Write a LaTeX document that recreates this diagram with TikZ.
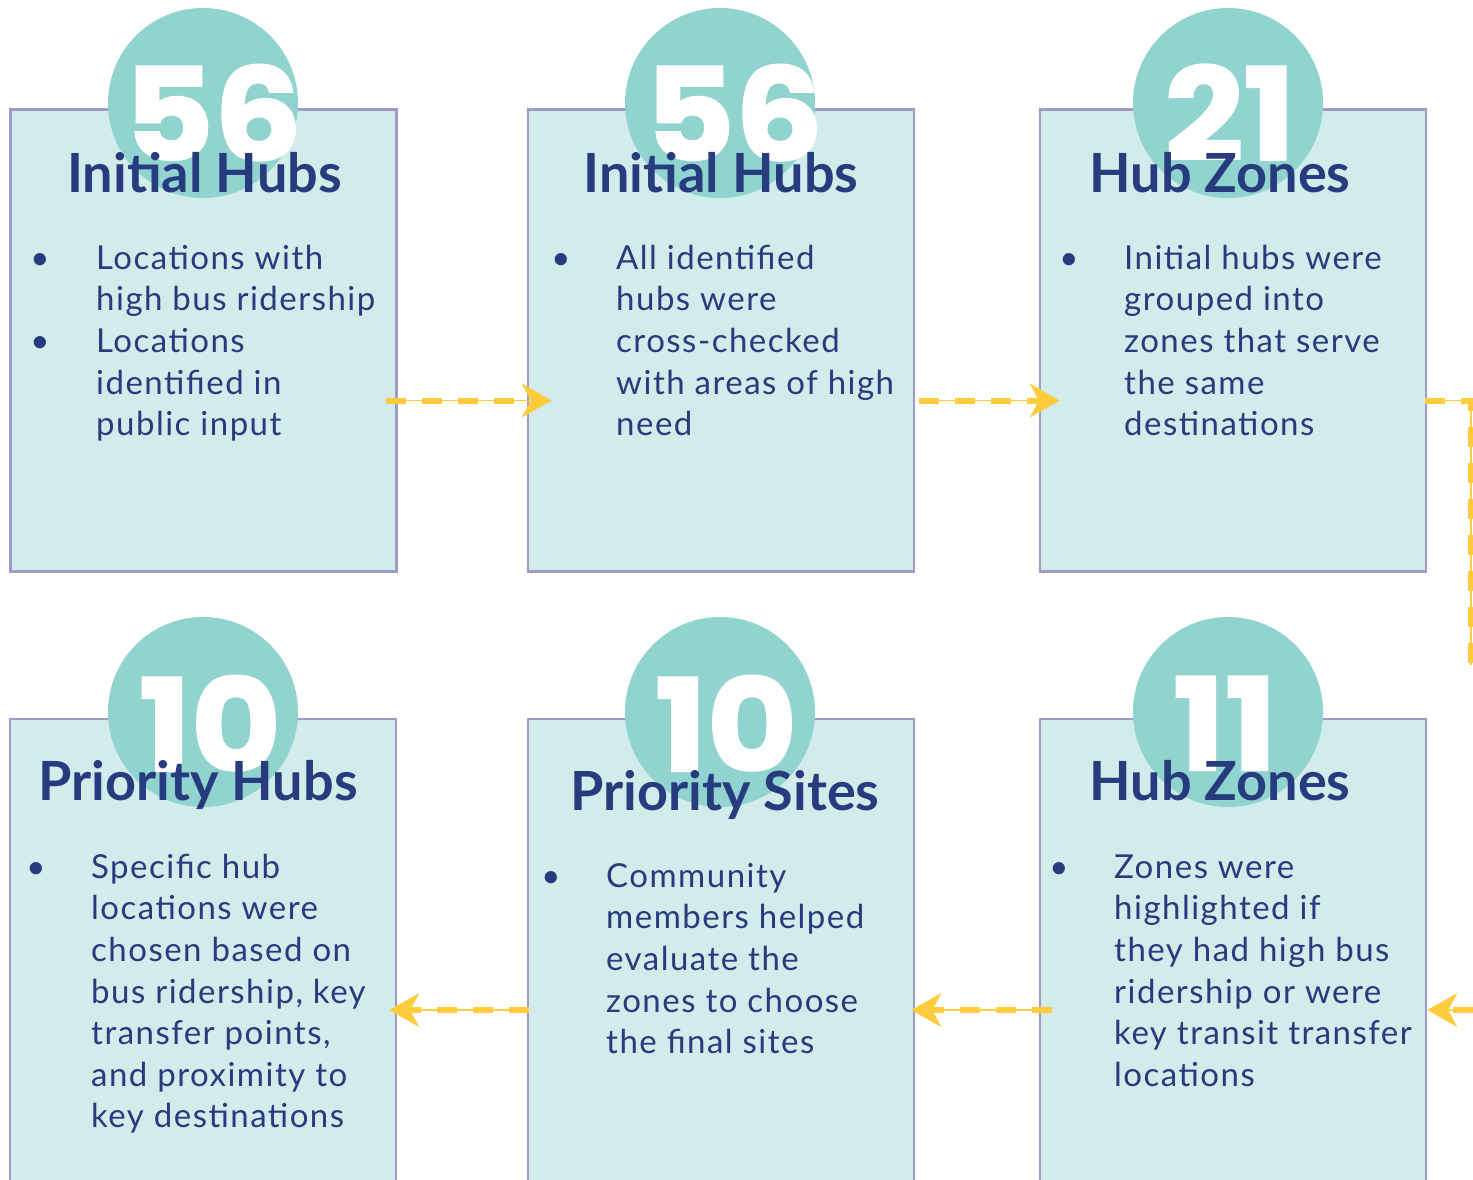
\documentclass[tikz,border=0pt]{standalone}
\usepackage{fontspec}
\setmainfont{Lato}
\newfontfamily\bodyfont{Lato}[LetterSpace=4.5]
\newfontfamily\numfont{Poppins}[BoldFeatures={FakeBold=1.8,FakeStretch=1.08}]
\usetikzlibrary{arrows.meta,calc}
\definecolor{boxfill}{HTML}{D2EBEB}
\definecolor{boxline}{HTML}{9E9CC5}
\definecolor{disc}{HTML}{91D3CE}
\definecolor{navy}{HTML}{263C7E}
\definecolor{gold}{HTML}{FDCC3C}
\tikzset{
  stepbox/.style={rectangle, draw=boxline, fill=boxfill, line width=2.5pt, minimum width=386pt, inner sep=0pt},
  topbox/.style={stepbox, minimum height=462pt},
  botbox/.style={stepbox, minimum height=582pt},
  disc/.style={circle, fill=disc, minimum size=190pt, inner sep=0pt},
  bignum/.style={anchor=base, text=white, font=\numfont\bfseries\fontsize{128}{128}\selectfont, inner sep=0pt},
  title/.style={anchor=base, text=navy, font=\bfseries\fontsize{54}{60}\selectfont, inner sep=0pt},
  body/.style={anchor=north west, text=navy, align=left, inner sep=0pt, font=\bodyfont\fontsize{33}{41.6}\selectfont},
  bul/.style={anchor=base, text=navy, inner sep=0pt, font=\fontsize{33}{41.6}\selectfont},
  conn/.style={draw=gold, line width=1.5pt, -{Stealth[length=30pt,width=34pt,inset=9pt]},
    postaction={draw=gold, line width=6pt, dash pattern=on 20pt off 16pt, -, shorten >=22pt}},
  connplain/.style={draw=gold, line width=1.5pt,
    postaction={draw=gold, line width=6pt, dash pattern=on 20pt off 16pt}},
}
\newcommand{\fl}{\rule{0pt}{26pt}}
\begin{document}
\begin{tikzpicture}[x=1pt,y=-1pt]
\useasboundingbox (0,0) rectangle (1473,1179);
\clip (0,0) rectangle (1473,1179);
\fill[white] (0,0) rectangle (1473,1179);
% boxes
\node[topbox, line width=3.5pt] (b1) at (203.5,340.5) {};
\node[topbox] (b2) at (721,340.5) {};
\node[topbox] (b3) at (1233,340.5) {};
\node[botbox] (b4) at (203,1010) {};
\node[botbox] (b5) at (721,1010) {};
\node[botbox] (b6) at (1233,1010) {};
% discs
\node[disc] (d1) at (203,103) {};
\node[disc] (d2) at (720,103) {};
\node[disc] (d3) at (1228,103) {};
\node[disc] (d4) at (203,712) {};
\node[disc] (d5) at (720,712) {};
\node[disc] (d6) at (1228,712) {};
% numbers
\node[bignum] (n1) at (213,160) {56};
\node[bignum] (n2) at (734,160) {56};
\node[bignum] (n3) at (1230,160) {21};
\node[bignum] (n4) at (210,771) {10};
\node[bignum] (n5) at (726,771) {10};
\node[bignum] (n6) at (1225,770) {11};
% titles
\node[title] (h1) at (204.5,192) {Initial Hubs};
\node[title] (h2) at (721,192) {Initial Hubs};
\node[title] (h3) at (1220,192) {Hub Zones};
\node[title] (h4) at (198,800) {Priority Hubs};
\node[title] (h5) at (725,810) {Priority Sites};
\node[title] (h6) at (1220,800) {Hub Zones};
% bullets
\node[bul] (p1a) at (40,269) {•};
\node[bul] (p1b) at (40,352) {•};
\node[bul] (p2) at (561,269) {•};
\node[bul] (p3) at (1069,269) {•};
\node[bul] (p4) at (36,878) {•};
\node[bul] (p5) at (551,887) {•};
\node[bul] (p6) at (1059,878) {•};
% body text
\node[body] (t1) at (96,243) {\fl Locations with\\high bus ridership\\Locations\\identified in\\public input};
\node[body] (t2) at (616,243) {\fl All identified\\hubs were\\cross-checked\\with areas of high\\need};
\node[body] (t3) at (1124,243) {\fl Initial hubs were\\grouped into\\zones that serve\\the same\\destinations};
\node[body] (t4) at (91,852) {\fl Specific hub\\locations were\\chosen based on\\bus ridership, key\\transfer points,\\and proximity to\\key destinations};
\node[body] (t5) at (606,861) {\fl Community\\members helped\\evaluate the\\zones to choose\\the final sites};
\node[body] (t6) at (1114,852) {\fl Zones were\\highlighted if\\they had high bus\\ridership or were\\key transit transfer\\locations};
% connectors
\coordinate (c1) at (1471,400.5);
\coordinate (c2) at (1471,665);
\coordinate (c3) at (1473,1010);
\draw[conn] ($(b1.east)+(-12,60)$) -- ($(b2.west)+(25,60)$);
\draw[conn] ($(b2.east)+(4,60)$) -- ($(b3.west)+(21,60)$);
\draw[connplain] ($(b3.east)+(-2,60)$) -- (c1) -- (c2);
\draw[conn] (c3) -- (b6.east);
\draw[conn] ($(b6.west)+(13,0)$) -- ($(b5.east)+(-4,0)$);
\draw[conn] ($(b5.west)+(2,0)$) -- ($(b4.east)+(-8,0)$);
\end{tikzpicture}
\end{document}
